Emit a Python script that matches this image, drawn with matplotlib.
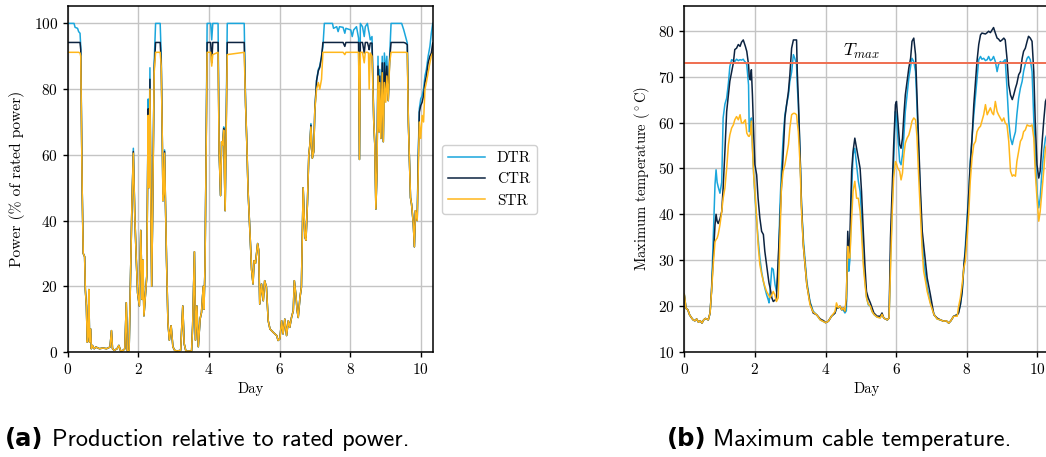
import numpy as np
import matplotlib
matplotlib.use("Agg")
from matplotlib import pyplot as plt

plt.rcParams['font.family'] = 'serif'
plt.rcParams['font.serif'] = ['cmr10']
plt.rcParams['mathtext.fontset'] = 'cm'
plt.rcParams['axes.formatter.use_mathtext'] = True
plt.rcParams['axes.unicode_minus'] = False

c_dtr = '#1aa6dc'
c_ctr = '#0c2340'
c_str = '#ffb71b'
c_tmax = '#ef6e50'

labels = ['DTR', 'CTR', 'STR']

# production, % of rated power
days_p = [0.00, 0.18, 0.21, 0.28, 0.31, 0.35, 0.37, 0.41, 0.44, 0.48, 0.50, 0.53, 0.555, 0.58, 0.60, 0.62,
          0.65, 0.67, 0.70, 0.75, 0.80, 0.90, 1.00, 1.10, 1.20, 1.24, 1.27, 1.32, 1.40, 1.45, 1.50, 1.57,
          1.62, 1.66, 1.69, 1.74, 1.78, 1.82, 1.86, 1.90, 1.94, 1.98, 2.03, 2.07, 2.11, 2.13, 2.16, 2.20,
          2.24, 2.26, 2.28, 2.30, 2.33, 2.36, 2.38, 2.41, 2.45, 2.49, 2.62, 2.65, 2.68, 2.70, 2.72, 2.745,
          2.77, 2.80, 2.84, 2.88, 2.93, 2.98, 3.03, 3.10, 3.20, 3.26, 3.30, 3.35, 3.45, 3.51, 3.54, 3.59,
          3.62, 3.66, 3.70, 3.75, 3.79, 3.84, 3.86, 3.89, 3.92, 3.95, 4.05, 4.08, 4.11, 4.26, 4.29, 4.33,
          4.36, 4.39, 4.42, 4.46, 4.48, 4.52, 5.00, 5.04, 5.07, 5.11, 5.16, 5.21, 5.25, 5.28, 5.32, 5.38,
          5.41, 5.44, 5.49, 5.54, 5.58, 5.63, 5.68, 5.73, 5.82, 5.92, 5.96, 6.01, 6.06, 6.10, 6.15, 6.20,
          6.25, 6.29, 6.34, 6.39, 6.42, 6.46, 6.50, 6.53, 6.58, 6.62, 6.67, 6.72, 6.75, 6.79, 6.83, 6.86,
          6.89, 6.93, 6.97, 7.00, 7.05, 7.10, 7.14, 7.19, 7.23, 7.27, 7.50, 7.53, 7.62, 7.66, 7.70, 7.80,
          7.85, 7.88, 8.02, 8.06, 8.10, 8.18, 8.24, 8.265, 8.29, 8.35, 8.40, 8.43, 8.49, 8.52, 8.54, 8.57,
          8.62, 8.67, 8.70, 8.73, 8.76, 8.79, 8.82, 8.84, 8.87, 8.91, 8.94, 8.97, 9.01, 9.04, 9.08, 9.12,
          9.16, 9.46, 9.52, 9.57, 9.62, 9.65, 9.71, 9.74, 9.79, 9.82, 9.85, 9.90, 9.93, 9.96, 10.00, 10.04,
          10.08, 10.12, 10.16, 10.21, 10.26, 10.30, 10.34]

p_dtr = [100, 100, 98.8, 98.5, 97.5, 97, 93, 50, 30, 29, 19, 14, 3, 5, 19, 3,
         7, 1, 2, 1, 1.5, 1, 1.2, 1.0, 1.5, 6.5, 1, 0.5, 1, 2, 0.3, 0.5,
         1, 15, 0.3, 0.5, 23, 45, 62, 42, 29, 18, 14, 37, 16, 28, 11, 17,
         23, 47, 77, 50, 86.5, 40, 20, 45, 88, 100, 100, 90, 65, 46, 48, 61.5,
         45, 28, 9, 3.6, 8, 1.6, 0.5, 0.3, 0.5, 14, 2.5, 0.2, 0.3, 0.3, 8, 30.5,
         3.6, 14, 1.6, 10, 12, 20, 13, 26, 60, 100, 100, 95, 100, 100, 61, 47.6,
         64, 63, 68.5, 43, 60, 100, 100, 75, 65, 49, 37, 25, 20.7, 27.8, 27, 33,
         31, 14.6, 20.7, 15.6, 21.7, 19.7, 9.5, 7, 6, 5, 3.5, 4, 9.5, 5.5, 10, 5,
         9.5, 7.5, 10.5, 12.6, 21.7, 17.7, 12.6, 10.5, 16.6, 19.7, 50, 35, 34, 45, 60, 63,
         69.5, 59, 61, 73.5, 82.6, 86, 87, 90, 93, 100, 100, 98.5, 99, 97.5, 99, 98.8,
         97, 98.5, 98, 96, 98, 99, 95.5, 58.6, 100, 99, 96, 99, 100, 98, 97, 95,
         96, 70, 63, 43.5, 55, 90, 67, 86, 65, 90, 64, 91, 85, 90, 76.5, 90,
         100, 100, 98, 96, 94, 70, 47, 45, 39, 32, 43, 40, 60, 74, 77, 78,
         80, 84, 86, 90, 93, 97, 100]

p_ctr = [94.2, 94.2, 94.2, 94.2, 94.2, 94.2, 92, 50, 30, 29, 19, 14, 3, 5, 19, 3,
         7, 1, 2, 1, 1.5, 1, 1.2, 1.0, 1.5, 6.5, 1, 0.5, 1, 2, 0.3, 0.5,
         1, 15, 0.3, 0.5, 23, 45, 61, 42, 29, 18, 14, 37, 16, 28, 11, 17,
         23, 47, 74, 50, 83, 40, 20, 45, 86, 94.2, 94.2, 88, 65, 46, 48, 61,
         45, 28, 9, 3.6, 8, 1.6, 0.5, 0.3, 0.5, 14, 2.5, 0.2, 0.3, 0.3, 8, 30.5,
         3.6, 14, 1.6, 10, 12, 20, 13, 26, 60, 94.2, 94.2, 88, 94.2, 94.2, 61, 47.6,
         64, 63, 68, 43, 60, 94.2, 94.2, 75, 65, 49, 37, 25, 20.7, 27.8, 27, 33,
         31, 14.6, 20.7, 15.6, 21.7, 19.7, 9.5, 7, 6, 5, 3.5, 4, 9.5, 5.5, 10, 5,
         9.5, 7.5, 10.5, 12.6, 21.7, 17.7, 12.6, 10.5, 16.6, 19.7, 50, 35, 34, 45, 60, 63,
         69, 59, 61, 73.5, 82.6, 85.6, 86.6, 89.7, 94.2, 94.2, 94.2, 94.2, 94.2, 94.2, 94.2, 94.2,
         93, 94.2, 94.2, 94.2, 94.2, 94.2, 94.2, 58.6, 94.2, 94.2, 91, 94.2, 94.2, 93, 92, 94,
         94, 70, 63, 43.5, 55, 87, 67, 84, 65, 88, 64, 88, 80, 87, 76.5, 89,
         94.2, 94.2, 94.2, 94, 93.5, 70, 47, 45, 39, 32, 43, 40, 58, 73, 75, 76,
         78, 82, 84, 88, 90, 91, 94]

p_str = [91.2, 91.2, 91.2, 91.2, 91.2, 91.0, 90, 50, 30, 29, 19, 14, 3, 5, 19, 3,
         7, 1, 2, 1, 1.5, 1, 1.2, 1.0, 1.5, 6.5, 1, 0.5, 1, 2, 0.3, 0.5,
         1, 15, 0.3, 0.5, 23, 45, 60.5, 42, 29, 18, 14, 37, 16, 28, 11, 17,
         23, 47, 72, 50, 80, 40, 20, 45, 85, 91.2, 91.2, 87, 65, 46, 48, 60.5,
         45, 28, 9, 3.6, 8, 1.6, 0.5, 0.3, 0.5, 14, 2.5, 0.2, 0.3, 0.3, 8, 30.5,
         3.6, 14, 1.6, 10, 12, 20, 13, 26, 60, 91.2, 91.2, 87, 90.5, 91.2, 61, 47.6,
         64, 63, 67.5, 43, 60, 90.5, 91.2, 75, 65, 49, 37, 25, 20.7, 27.8, 27, 33,
         31, 14.6, 20.7, 15.6, 21.7, 19.7, 9.5, 7, 6, 5, 3.5, 4, 9.5, 5.5, 10, 5,
         9.5, 7.5, 10.5, 12.6, 21.7, 17.7, 12.6, 10.5, 16.6, 19.7, 50, 35, 34, 45, 60, 63,
         68.5, 59, 61, 73.5, 80, 82, 80, 83, 91.2, 91.2, 91.2, 91.2, 91.2, 91.2, 91.2, 91.2,
         90.5, 91.2, 91.2, 91.2, 91.2, 91.2, 91.2, 58.6, 91.2, 91.2, 88, 91.2, 91.2, 91, 80, 91,
         90, 70, 63, 43.5, 55, 84, 67, 82, 65, 85, 64, 82, 76, 84, 76.5, 88,
         91.2, 91.2, 91.2, 91.2, 91, 70, 47, 45, 39, 32, 43, 40, 55, 70, 65, 72,
         70, 80, 82, 85, 88, 90, 91]

# maximum cable temperature, deg C
days_t = [0.00, 0.05, 0.10, 0.15, 0.20, 0.25, 0.30, 0.35, 0.40, 0.45, 0.50, 0.55, 0.60, 0.68, 0.73, 0.77,
          0.82, 0.87, 0.90, 0.93, 0.96, 1.01, 1.06, 1.10, 1.15, 1.20, 1.25, 1.29, 1.34, 1.39, 1.43, 1.48,
          1.53, 1.58, 1.62, 1.67, 1.70, 1.73, 1.77, 1.82, 1.84, 1.87, 1.90, 1.93, 1.97, 2.00, 2.05, 2.09,
          2.14, 2.19, 2.24, 2.28, 2.33, 2.38, 2.40, 2.43, 2.48, 2.52, 2.57, 2.61, 2.66, 2.71, 2.75, 2.80,
          2.85, 2.90, 2.95, 2.99, 3.04, 3.09, 3.13, 3.18, 3.20, 3.23, 3.28, 3.32, 3.37, 3.47, 3.56, 3.65,
          3.75, 3.85, 3.95, 4.00, 4.08, 4.17, 4.27, 4.31, 4.36, 4.41, 4.46, 4.50, 4.55, 4.59, 4.63, 4.66,
          4.69, 4.74, 4.78, 4.83, 4.88, 4.93, 4.98, 5.02, 5.07, 5.12, 5.16, 5.21, 5.27, 5.32, 5.37, 5.46,
          5.55, 5.60, 5.65, 5.75, 5.80, 5.84, 5.89, 5.93, 5.98, 6.01, 6.05, 6.10, 6.14, 6.18, 6.22, 6.26,
          6.31, 6.36, 6.41, 6.45, 6.50, 6.55, 6.59, 6.64, 6.69, 6.74, 6.78, 6.83, 6.88, 6.97, 7.07, 7.16,
          7.25, 7.35, 7.42, 7.49, 7.55, 7.63, 7.73, 7.77, 7.82, 7.87, 7.92, 7.96, 8.01, 8.06, 8.10, 8.15,
          8.20, 8.25, 8.29, 8.34, 8.39, 8.43, 8.48, 8.53, 8.58, 8.62, 8.67, 8.72, 8.76, 8.81, 8.86, 8.90,
          8.95, 9.00, 9.05, 9.09, 9.14, 9.19, 9.24, 9.29, 9.33, 9.38, 9.42, 9.47, 9.52, 9.57, 9.61, 9.66,
          9.71, 9.75, 9.80, 9.85, 9.90, 9.94, 9.99, 10.04, 10.08, 10.13, 10.18, 10.23, 10.30]

t_dtr = [22.5, 19.5, 19.2, 18.1, 17.5, 17.0, 16.8, 17.2, 16.5, 16.8, 16.3, 17.0, 17.3, 17.0, 18.5, 23.2,
         34.8, 46.5, 49.7, 47, 46, 44.6, 47, 61, 64, 65.3, 68.6, 72.2, 73.7, 73.5, 73.3, 73.8,
         73.5, 73.7, 73.6, 73.8, 73.4, 73.2, 72.6, 68.2, 58, 58.4, 61, 55, 48, 44, 38.5, 34.8,
         30.5, 27.5, 25.4, 24, 22.5, 21.3, 20.7, 23.2, 28.3, 28, 24.7, 23.2, 27.6, 42, 49.4, 56.6,
         61.7, 64, 66, 69, 71, 74.8, 74, 72.6, 68, 64, 53, 42, 34.8, 25.4, 21, 18.9,
         18.1, 17.0, 16.6, 16.4, 16.7, 17.8, 18.5, 19.6, 19.6, 19.8, 19.2, 19.2, 18.5, 19, 33.4, 27.6,
         30, 45, 53, 54.4, 50.8, 47.2, 45, 40, 30.5, 25.4, 22.1, 20.3, 20, 18.8, 18.2, 17.6,
         17.5, 18.2, 17.4, 17.0, 17.4, 30, 42, 50.8, 62.4, 61, 56.6, 51.5, 50.8, 53, 57, 62.4,
         66, 69.7, 72.2, 74, 73.3, 71.1, 63.9, 53, 43, 34, 30, 27, 24, 20.8, 18.3, 17.2,
         17.0, 16.7, 16.8, 16.3, 16.8, 17.8, 18.1, 18.8, 20.3, 23, 28.5, 33, 39.2, 45, 51.5, 56.6,
         61.7, 66, 69.7, 73.7, 74.4, 73.8, 74, 73.5, 73.7, 74.4, 73.5, 73.8, 74.4, 73.3, 71.1, 72.6,
         73.3, 73, 73.4, 73.7, 67.5, 60.3, 56.6, 55.2, 56.6, 58, 61.7, 65.3, 67.5, 69, 71.1, 72.8,
         74, 74.4, 73.7, 71.1, 60.3, 53, 45, 41.4, 43.5, 49.4, 53.7, 56.6, 58]

t_ctr = [22.5, 19.5, 19.2, 18.1, 17.5, 17.0, 16.8, 17.2, 16.5, 16.8, 16.3, 17.0, 17.3, 17.0, 18.5, 23.2,
         30.5, 37.7, 40, 38.5, 38, 39, 40.6, 45.7, 53.7, 62.4, 66, 69, 71, 73, 75.9, 76.2,
         77, 76.6, 77.5, 78, 77.3, 76.6, 75.5, 72.6, 70, 69.3, 71.5, 66, 56.6, 50.8, 48.6, 43.5,
         39.2, 36.3, 35.6, 32, 29, 26.1, 25, 24, 21.8, 21, 21.3, 21.8, 30, 38.5, 45.7, 53,
         61, 64, 66.8, 70.4, 76.2, 78, 78, 78, 71.1, 65.3, 53, 42, 33.4, 24.7, 20.7, 18.5,
         18.1, 17.2, 16.8, 16.4, 16.7, 17.8, 18.5, 19.6, 19.6, 20, 19.2, 19.6, 18.9, 21, 36.3, 31,
         35, 49.4, 53.7, 56.6, 54.4, 52.3, 50, 45, 36.3, 28.3, 23.2, 21.8, 20.7, 19.6, 18.5, 17.8,
         17.8, 18.5, 17.4, 17.0, 17.4, 34.8, 45.7, 55, 63.9, 64.6, 60.3, 55.2, 54.4, 56.6, 61.7, 66,
         69, 71.9, 74, 77.7, 78.4, 74.8, 66, 55.2, 45, 36.3, 33.4, 29.8, 26.1, 22.5, 18.1, 17.4,
         17.0, 16.7, 16.8, 16.3, 16.8, 17.8, 18.1, 18.5, 20.3, 23.2, 29, 31.9, 37.7, 45, 50.8, 56.6,
         63.9, 69, 73.3, 77, 79.1, 79.5, 79.4, 79.3, 79.6, 79.9, 79.6, 80.2, 80.7, 79.5, 78.4, 78.2,
         77.7, 78, 78.4, 78, 74, 68.2, 66, 65, 66, 67.5, 68.5, 70.4, 71.1, 74, 75.5, 76.2,
         77.7, 78.8, 78.4, 77.7, 71, 60.3, 50.8, 47.9, 49.4, 55.2, 60.3, 64.6, 66]

t_str = [22.5, 19.5, 19.2, 18.1, 17.5, 17.0, 16.8, 17.2, 16.5, 16.8, 16.3, 17.0, 17.3, 17.0, 18.5, 23,
         29, 34, 34.5, 34.8, 35.6, 37.7, 40.6, 43.5, 45.7, 50, 55.2, 57.3, 58.8, 59.5, 60.6, 61.3,
         60.6, 61.7, 59.9, 59.9, 60.3, 60.6, 57.7, 57, 57, 57.5, 60.3, 54.4, 47.9, 45, 39.2, 33.4,
         29, 27, 25.4, 24.3, 23.2, 22.5, 22.2, 21.8, 22.5, 23.2, 22.3, 21, 21.8, 34.8, 45.7, 49.4,
         50.8, 53, 55.2, 58.8, 61.7, 62, 62, 61.7, 60, 58, 50.8, 40.6, 33.4, 24.7, 20.3, 18.7,
         18.1, 17.0, 16.6, 16.4, 16.7, 17.8, 18.8, 20.7, 19.6, 20, 19.2, 19.6, 18.9, 22, 33, 30.5,
         30.5, 39.2, 45, 47.2, 43.5, 43.5, 40.6, 36, 29, 24.7, 21.8, 20.5, 20, 18.8, 18.2, 17.6,
         17.4, 18.2, 17.4, 17.0, 17.4, 28, 40.6, 47.9, 51.5, 51, 50, 49.4, 47.5, 49, 53, 55.5,
         56.6, 57.3, 58.8, 60.3, 61, 60.6, 57, 48, 40, 31.9, 27.6, 25.5, 23.2, 20.5, 18.2, 17.2,
         17.0, 16.7, 16.8, 16.3, 16.8, 17.8, 17.8, 19.9, 21.8, 24.7, 28.3, 29.8, 34.8, 40.6, 47.2, 52.3,
         55.2, 55.9, 58, 58.8, 59.2, 60.3, 61.7, 63.9, 61.7, 62.4, 63.2, 62.1, 61.7, 64.6, 62.4, 61.7,
         61, 60.3, 61, 59.9, 59.5, 55.9, 49.4, 48.3, 48.6, 48.3, 51.5, 53.7, 55.9, 56.6, 58, 58.4,
         59.5, 59.3, 59.2, 59.5, 56.6, 49.4, 43.5, 38.5, 40.6, 45, 49.4, 54.4, 56]

t_max = 73.0

fig = plt.figure(figsize=(10.46, 4.57), dpi=100)
ax1 = fig.add_axes([0.0647, 0.2298, 0.3490, 0.7571])
ax2 = fig.add_axes([0.6542, 0.2298, 0.3490, 0.7571])

lw = 1.1
h1, = ax1.plot(days_p, p_dtr, color=c_dtr, lw=lw)
h2, = ax1.plot(days_p, p_ctr, color=c_ctr, lw=lw)
h3, = ax1.plot(days_p, p_str, color=c_str, lw=lw)
ax1.set_xlim(0, 10.34)
ax1.set_ylim(0, 105.3)
ax1.set_yticks([0, 20, 40, 60, 80, 100])
ax1.set_ylabel('Power (% of rated power)', fontsize=11.2)
ax1.yaxis.set_label_coords(-0.117, 0.5)

ax2.plot(days_t, t_dtr, color=c_dtr, lw=lw)
ax2.plot(days_t, t_ctr, color=c_ctr, lw=lw)
ax2.plot(days_t, t_str, color=c_str, lw=lw)
ax2.axhline(t_max, color=c_tmax, lw=1.4)
ax2.text(5.03, 75.4, r'$T_{max}$', fontsize=13, ha='center', va='center')
ax2.set_xlim(0, 10.34)
ax2.set_ylim(10, 85.4)
ax2.set_yticks([10, 20, 30, 40, 50, 60, 70, 80])
ax2.set_ylabel(r'Maximum temperature ($^\circ$C)', fontsize=10.5)
ax2.yaxis.set_label_coords(-0.088, 0.5)

for ax in (ax1, ax2):
    ax.set_xticks([0, 2, 4, 6, 8, 10])
    ax.set_xlabel('Day', fontsize=10.5)
    ax.grid(True, color='#c4c4c4', lw=1.0)
    ax.set_axisbelow(True)
    ax.tick_params(labelsize=11, length=3.5, width=1.0)
    for s in ax.spines.values():
        s.set_linewidth(1.1)

fig.legend([h1, h2, h3], labels, loc='center', bbox_to_anchor=(0.468, 0.607),
           fontsize=11, handlelength=2.4, framealpha=1, edgecolor='#d0d0d0')

# sub-captions under each panel
cap_size = 17.5
fig.text(0.005, 0.024, '(a)', fontsize=cap_size, fontweight='bold', family='DejaVu Sans')
fig.text(0.0497, 0.024, 'Production relative to rated power.', fontsize=cap_size, family='cmss10')
fig.text(0.6377, 0.024, '(b)', fontsize=cap_size, fontweight='bold', family='DejaVu Sans')
fig.text(0.6816, 0.024, 'Maximum cable temperature.', fontsize=cap_size, family='cmss10')

fig.savefig('out.png', dpi=100)
